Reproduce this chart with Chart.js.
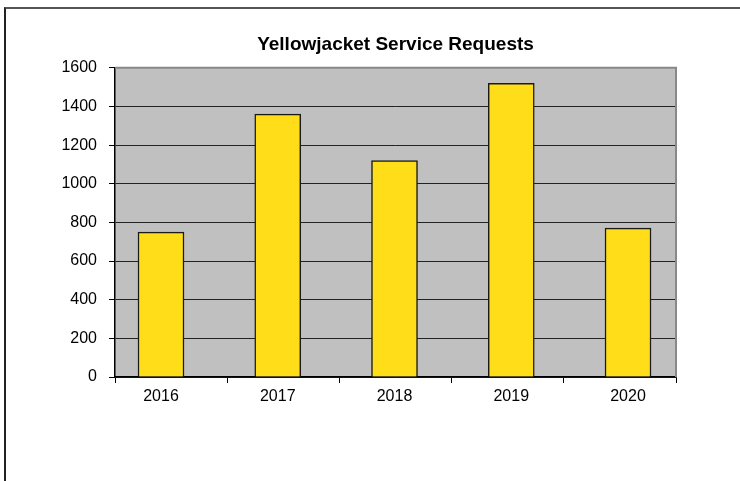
<!DOCTYPE html>
<html>
<head>
<meta charset="utf-8">
<script src="https://cdn.jsdelivr.net/npm/chart.js@4"></script>
<style>
  html, body { margin: 0; padding: 0; background: #fff; }
  #frame {
    position: absolute; left: 4px; top: 7px; width: 900px; height: 700px;
    border-left: 2px solid #222; border-top: 2px solid #555;
  }
  #wrap { position: absolute; left: 0; top: 0; width: 740px; height: 481px; }
</style>
</head>
<body>
<div id="frame"></div>
<div id="wrap"><canvas id="chart"></canvas></div>
<script>
const years = ['2016', '2017', '2018', '2019', '2020'];
const requests = [750, 1360, 1120, 1520, 770];
const yTicks = [0, 200, 400, 600, 800, 1000, 1200, 1400, 1600];

const FONT = 'Liberation Sans, Arial, sans-serif';

// fond gris de la zone de tracé + bordure haut/droite
const plotBackground = {
    id: 'plotBackground',
    beforeDraw(chart) {
        const { ctx, chartArea: a } = chart;
        ctx.save();
        ctx.fillStyle = '#C0C0C0';
        ctx.fillRect(a.left, a.top, a.right - a.left, a.bottom - a.top);
        ctx.restore();
    },
    afterDatasetsDraw(chart) {
        const { ctx, chartArea: a } = chart;
        ctx.save();
        ctx.strokeStyle = '#888';
        ctx.lineWidth = 2;
        ctx.beginPath();
        ctx.moveTo(a.left, a.top);
        ctx.lineTo(a.right, a.top);
        ctx.lineTo(a.right, a.bottom);
        ctx.stroke();
        ctx.restore();
    }
};

new Chart(document.getElementById('chart'), {
    type: 'bar',
    data: {
        labels: years,
        datasets: [{
            label: 'Service Requests',
            data: requests.map((v, i) => ({ x: i, y: v })),
            xAxisID: 'xBars',
            backgroundColor: '#FFDD18',
            borderColor: '#1a1a1a',
            borderWidth: 1.5,
            barThickness: 46
        }]
    },
    options: {
        responsive: true,
        maintainAspectRatio: false,
        animation: false,
        layout: { padding: { left: 0, right: 64, top: 0, bottom: 0 } },
        plugins: {
            legend: { display: false },
            tooltip: { enabled: false },
            title: {
                display: true,
                fullSize: false,
                text: 'Yellowjacket Service Requests',
                color: '#000',
                font: { family: FONT, size: 19, weight: 'bold' },
                padding: { top: 33, bottom: 12 }
            }
        },
        scales: {
            // axe des catégories : seulement les graduations
            x: {
                type: 'category',
                position: 'bottom',
                weight: 0,
                afterFit: scale => { scale.height = 6; },
                grid: { offset: true, drawOnChartArea: false, tickLength: 6, color: '#000' },
                border: { color: '#000', width: 1.5 },
                ticks: { display: false }
            },
            // axe des barres + étiquettes des années
            xBars: {
                type: 'linear',
                position: 'bottom',
                weight: 1,
                offset: false,
                min: -0.394,
                max: 4.411,
                afterFit: scale => { scale.height = 98; },
                afterBuildTicks: scale => { scale.ticks = years.map((y, i) => ({ value: i })); },
                grid: { display: false },
                border: { display: false },
                ticks: {
                    color: '#000',
                    padding: -4,
                    font: { family: FONT, size: 16 },
                    callback: value => years[value]
                }
            },
            y: {
                min: 0,
                max: 1600,
                afterFit: scale => { scale.width = 115; },
                afterBuildTicks: scale => { scale.ticks = yTicks.map(v => ({ value: v })); },
                grid: {
                    color: ctx => ctx.tick && ctx.tick.value === 1600 ? 'rgba(0,0,0,0)' : '#222',
                    lineWidth: 1,
                    tickLength: 6,
                    tickColor: '#000'
                },
                border: { color: '#000', width: 1.5 },
                ticks: {
                    color: '#000',
                    padding: 12,
                    font: { family: FONT, size: 16 },
                    callback: value => String(value)
                }
            }
        }
    },
    plugins: [plotBackground]
});
</script>
</body>
</html>
